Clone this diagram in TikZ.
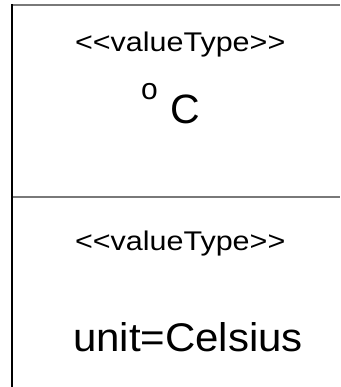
\documentclass[tikz,border=0pt]{standalone}
\usepackage{fontspec}
\setmainfont{Liberation Sans}
\begin{document}
\begin{tikzpicture}[x=1pt,y=1pt,
  txt/.style={inner sep=0pt,outer sep=0pt,anchor=base west},
  sep/.style={draw=gray!95!black,line width=2pt},
  side/.style={draw=black,line width=1.5pt}]
\useasboundingbox (0,0) rectangle (340,387);
\fill[white] (0,0) rectangle (340,387);
% compartment lines
\coordinate (tl) at (12,381.5);
\coordinate (tr) at (340,381.5);
\coordinate (ml) at (12,189.5);
\coordinate (mr) at (340,189.5);
\coordinate (bl) at (12,0);
\draw[sep] (tl) -- (tr);
\draw[sep] (ml) -- (mr);
\draw[side] (12,382.5) -- (bl);
% texts
\node[txt,font=\fontsize{27}{30}\selectfont] (st1) at (75,335) {\scalebox{1.13}[1]{<{}<valueType>{}>}};
\node[txt,font=\fontsize{30}{33}\selectfont] (deg) at (141,287) {o};
\node[txt,font=\fontsize{41}{44}\selectfont] (c) at (170,263) {C};
\node[txt,font=\fontsize{27}{30}\selectfont] (st2) at (75,136) {\scalebox{1.13}[1]{<{}<valueType>{}>}};
\node[txt,font=\fontsize{40}{44}\selectfont] (unit) at (73,35) {\scalebox{1.05}[1]{unit=Celsius}};
\end{tikzpicture}
\end{document}
